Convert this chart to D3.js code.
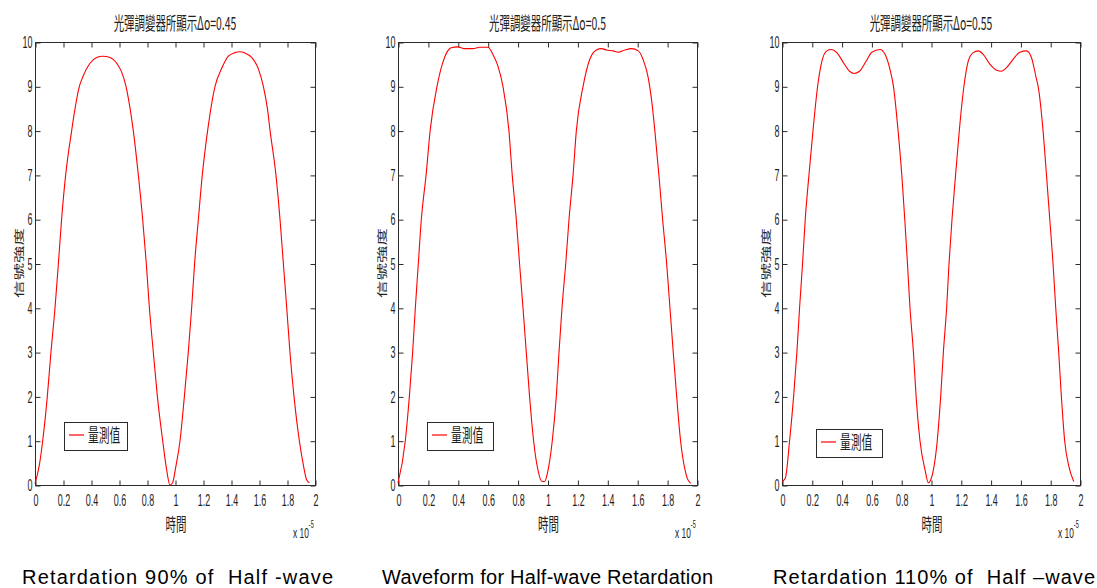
<!DOCTYPE html>
<html>
<head>
<meta charset="utf-8">
<script src="https://cdn.jsdelivr.net/npm/d3@7"></script>
<style>
  body { margin: 0; background: #fff; }
  svg { display: block; }
</style>
</head>
<body>
<svg id="fig" width="1097" height="588"></svg>
<script>
// ---- chart text ----
const titles = ["光彈調變器所顯示Δo=0.45", "光彈調變器所顯示Δo=0.5", "光彈調變器所顯示Δo=0.55"];
const captions = ["Retardation 90% of  Half -wave", "Waveform for Half-wave Retardation", "Retardation 110% of  Half –wave"];
const xAxisLabel = "時間";
const yAxisLabel = "信號強度";
const legendLabel = "量測值";
const xExponent = "-5";

// ---- tick values ----
const xTicks = [0, 0.2, 0.4, 0.6, 0.8, 1, 1.2, 1.4, 1.6, 1.8, 2];
const yTicks = [0, 1, 2, 3, 4, 5, 6, 7, 8, 9, 10];

// ---- measured signal, time in units of 1e-5 s ----
const time45 = [0, 0.031, 0.055, 0.088, 0.114, 0.143, 0.167, 0.190, 0.219, 0.262, 0.281, 0.317, 0.340, 0.393, 0.440, 0.483, 0.536, 0.588, 0.619, 0.650, 0.679, 0.702, 0.738, 0.769, 0.795, 0.817, 0.845, 0.874, 0.912, 0.940, 0.964, 0.983, 1.005, 1.036, 1.067, 1.095, 1.119, 1.140, 1.167, 1.195, 1.233, 1.286, 1.333, 1.381, 1.429, 1.460, 1.500, 1.548, 1.595, 1.631, 1.660, 1.679, 1.721, 1.750, 1.774, 1.798, 1.821, 1.850, 1.888, 1.917, 1.940, 1.960];
const signal45 = [0.03, 0.45, 1, 2, 3, 4, 5, 6, 7, 8, 8.4, 9, 9.2, 9.52, 9.65, 9.68, 9.65, 9.5, 9.32, 9.0, 8.5, 8.0, 7, 6, 5, 4, 3, 2, 1, 0.35, 0, 0.05, 0.4, 1, 2, 3, 4, 5, 6, 7, 8, 9, 9.4, 9.68, 9.76, 9.78, 9.75, 9.65, 9.4, 9.0, 8.5, 8.0, 7, 6, 5, 4, 3, 2, 1, 0.45, 0.12, 0.05];

const time50 = [0, 0.049, 0.076, 0.098, 0.116, 0.136, 0.156, 0.188, 0.215, 0.261, 0.299, 0.333, 0.355, 0.400, 0.445, 0.501, 0.545, 0.601, 0.635, 0.668, 0.702, 0.742, 0.764, 0.791, 0.813, 0.836, 0.858, 0.880, 0.907, 0.936, 0.963, 0.981, 0.999, 1.032, 1.059, 1.077, 1.097, 1.122, 1.144, 1.171, 1.193, 1.238, 1.283, 1.327, 1.361, 1.394, 1.439, 1.473, 1.517, 1.562, 1.607, 1.640, 1.674, 1.696, 1.718, 1.745, 1.770, 1.797, 1.819, 1.841, 1.864, 1.890, 1.920, 1.935, 1.958];
const signal50 = [0.04, 1, 2, 3, 4, 5, 6, 7, 8, 9, 9.53, 9.8, 9.87, 9.89, 9.85, 9.85, 9.88, 9.88, 9.72, 9.46, 9.0, 8, 7, 6, 5, 4, 3, 2, 1, 0.34, 0.08, 0.08, 0.26, 1, 2, 3, 4, 5, 6, 7, 8, 9, 9.61, 9.82, 9.85, 9.82, 9.8, 9.77, 9.82, 9.85, 9.8, 9.6, 9.19, 8.7, 8, 7, 6, 5, 4, 3, 2, 1, 0.34, 0.15, 0.04];

const time55 = [0, 0.022, 0.051, 0.078, 0.100, 0.118, 0.138, 0.156, 0.181, 0.208, 0.239, 0.268, 0.301, 0.330, 0.368, 0.413, 0.453, 0.484, 0.520, 0.565, 0.603, 0.658, 0.692, 0.725, 0.748, 0.779, 0.804, 0.824, 0.842, 0.859, 0.882, 0.900, 0.926, 0.960, 0.982, 0.993, 1.016, 1.042, 1.065, 1.083, 1.105, 1.121, 1.141, 1.165, 1.190, 1.221, 1.250, 1.283, 1.317, 1.350, 1.395, 1.440, 1.473, 1.507, 1.551, 1.596, 1.641, 1.674, 1.708, 1.719, 1.752, 1.775, 1.797, 1.819, 1.837, 1.857, 1.875, 1.897, 1.926, 1.958];
const signal55 = [0.08, 0.15, 1, 2, 3, 4, 5, 6, 7, 8, 9, 9.57, 9.8, 9.83, 9.76, 9.53, 9.34, 9.29, 9.34, 9.57, 9.77, 9.83, 9.72, 9.38, 9.0, 8, 7, 6, 5, 4, 3, 2, 1, 0.34, 0.05, 0.08, 0.34, 1, 2, 3, 4, 5, 6, 7, 8, 9, 9.57, 9.76, 9.8, 9.72, 9.5, 9.36, 9.34, 9.42, 9.61, 9.77, 9.8, 9.65, 9.16, 9.0, 8, 7, 6, 5, 4, 3, 2, 1, 0.41, 0.08];

// ---- layout of the three panels ----
const panels = [
  { title: titles[0], caption: captions[0], t: time45, s: signal45,
    left: 35, right: 315, legend: { x: 64, y: 422, w: 63, h: 28 },
    capX: 22, capW: 311 },
  { title: titles[1], caption: captions[1], t: time50, s: signal50,
    left: 398, right: 697, legend: { x: 427, y: 422, w: 66, h: 28 },
    capX: 382, capW: 331 },
  { title: titles[2], caption: captions[2], t: time55, s: signal55,
    left: 782, right: 1080, legend: { x: 816, y: 429, w: 66, h: 28 },
    capX: 773, capW: 322 }
];
const plotTop = 42, plotBottom = 485;
const squeeze = 0.56;          // narrow glyph proportion used for all axis text
const frameColor = "#2b2b2b";
const textColor = "#222";
const lineColor = "#ff0000";
const latinFont = "'Liberation Sans', Arial, Helvetica, sans-serif";
const cjkFont = "'Noto Sans CJK TC', 'Noto Sans CJK SC', sans-serif";

const svg = d3.select("#fig");

panels.forEach(p => {
  const x = d3.scaleLinear().domain([0, 2]).range([p.left, p.right]);
  const y = d3.scaleLinear().domain([0, 10]).range([plotBottom, plotTop]);
  const g = svg.append("g");

  // frame
  g.append("rect")
    .attr("x", p.left + 0.5).attr("y", plotTop + 0.5)
    .attr("width", p.right - p.left).attr("height", plotBottom - plotTop)
    .attr("fill", "none").attr("stroke", frameColor).attr("stroke-width", 1);

  // bottom axis with labels
  const gx = g.append("g").attr("transform", `translate(0.5,${plotBottom + 0.5})`)
    .call(d3.axisBottom(x).tickValues(xTicks).tickSize(-5).tickPadding(9)
      .tickFormat(d3.format("~g")));
  // top axis, ticks only
  const gxt = g.append("g").attr("transform", `translate(0.5,${plotTop + 0.5})`)
    .call(d3.axisTop(x).tickValues(xTicks).tickSize(-5).tickFormat(""));
  // left axis with labels
  const gy = g.append("g").attr("transform", `translate(${p.left + 0.5},0.5)`)
    .call(d3.axisLeft(y).tickValues(yTicks).tickSize(-5).tickPadding(3)
      .tickFormat(d3.format("d")));
  // right axis, ticks only
  const gyr = g.append("g").attr("transform", `translate(${p.right + 0.5},0.5)`)
    .call(d3.axisRight(y).tickValues(yTicks).tickSize(-5).tickFormat(""));

  [gx, gxt, gy, gyr].forEach(a => {
    a.select(".domain").remove();
    a.selectAll(".tick line").attr("stroke", frameColor);
    a.selectAll(".tick text")
      .attr("fill", textColor)
      .attr("font-family", latinFont)
      .attr("font-size", 16);
  });
  gx.selectAll(".tick text").attr("transform", `scale(${squeeze},1)`);
  gy.selectAll(".tick text")
    .attr("x", -3 / squeeze)
    .attr("transform", `scale(${squeeze},1)`);

  // signal curve
  const pts = p.t.map((t, i) => [t, p.s[i]]);
  g.append("path")
    .datum(pts)
    .attr("fill", "none")
    .attr("stroke", lineColor)
    .attr("stroke-width", 1.1)
    .attr("d", d3.line().x(d => x(d[0])).y(d => y(d[1])).curve(d3.curveMonotoneX));

  const cx = (p.left + p.right) / 2;

  // title
  g.append("text")
    .attr("transform", `translate(${cx},30) scale(0.58,1)`)
    .attr("text-anchor", "middle")
    .attr("font-family", cjkFont)
    .attr("font-size", 18)
    .attr("fill", textColor)
    .text(p.title);

  // x axis label
  g.append("text")
    .attr("transform", `translate(${cx + 1},531) scale(0.58,1)`)
    .attr("text-anchor", "middle")
    .attr("font-family", cjkFont)
    .attr("font-size", 18)
    .attr("fill", textColor)
    .text(xAxisLabel);

  // x scale factor (x 10^-5)
  const mult = g.append("text")
    .attr("transform", `translate(${p.right - 22},538) scale(${squeeze},1)`)
    .attr("font-family", latinFont)
    .attr("font-size", 15)
    .attr("fill", textColor);
  mult.append("tspan").text("x 10");
  mult.append("tspan").attr("font-size", 10).attr("dy", -10).text(xExponent);

  // y axis label
  g.append("text")
    .attr("transform", `translate(${p.left - 12},263) scale(0.58,1) rotate(-90)`)
    .attr("text-anchor", "middle")
    .attr("font-family", cjkFont)
    .attr("font-size", 17.5)
    .attr("fill", textColor)
    .text(yAxisLabel);

  // legend
  const L = p.legend;
  g.append("rect")
    .attr("x", L.x + 0.5).attr("y", L.y + 0.5)
    .attr("width", L.w).attr("height", L.h)
    .attr("fill", "#fff").attr("stroke", frameColor).attr("stroke-width", 1);
  g.append("line")
    .attr("x1", L.x + 5).attr("x2", L.x + 20)
    .attr("y1", L.y + 13).attr("y2", L.y + 13)
    .attr("stroke", lineColor).attr("stroke-width", 1.2);
  g.append("text")
    .attr("transform", `translate(${L.x + 24},${L.y + 20}) scale(0.6,1)`)
    .attr("font-family", cjkFont)
    .attr("font-size", 18)
    .attr("fill", textColor)
    .text(legendLabel);

  // caption under the panel
  g.append("text")
    .attr("x", p.capX).attr("y", 584)
    .attr("font-family", latinFont)
    .attr("font-size", 20)
    .attr("fill", "#000")
    .style("white-space", "pre")
    .attr("textLength", p.capW)
    .attr("lengthAdjust", "spacing")
    .text(p.caption);
});
</script>
</body>
</html>
